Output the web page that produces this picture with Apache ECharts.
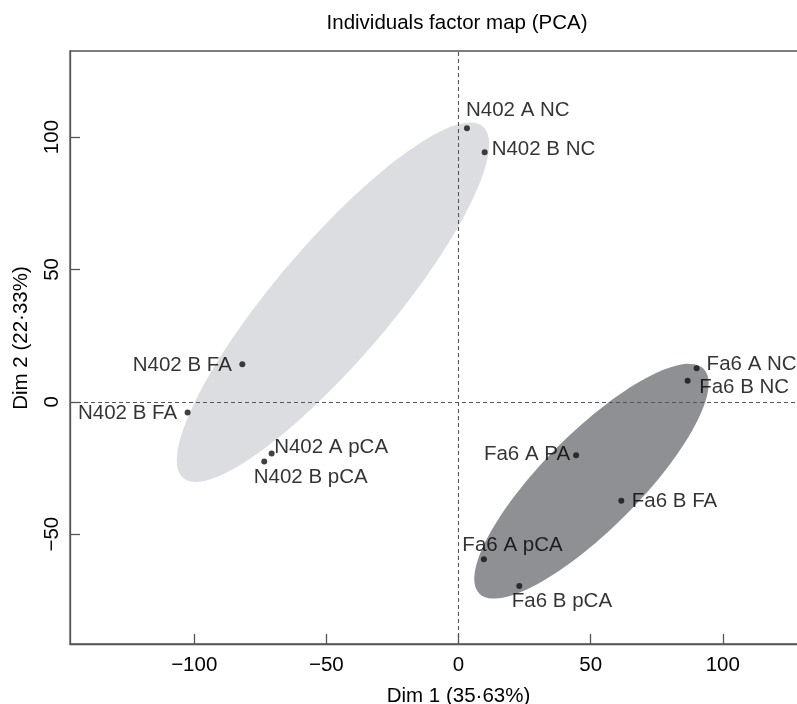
<!DOCTYPE html>
<html>
<head>
<meta charset="utf-8">
<script src="https://cdn.jsdelivr.net/npm/echarts@6/dist/echarts.min.js"></script>
<style>
html,body{margin:0;padding:0;background:#fff;}
#chart{width:797px;height:704px;}
</style>
</head>
<body>
<div id="chart"></div>
<script>
// ---- data ----
const pointNames = ['N402 A NC','N402 B NC','N402 B FA','N402 B FA','N402 A pCA','N402 B pCA',
                    'Fa6 A NC','Fa6 B NC','Fa6 A PA','Fa6 B FA','Fa6 A pCA','Fa6 B pCA'];
const dim1 = [3.2, 9.9, -81.8, -102.5, -70.7, -73.5, 90.1, 86.7, 44.5, 61.6, 9.6, 23.0];
const dim2 = [103.3, 94.3, 14.2, -4.1, -19.5, -22.6, 12.7, 7.9, -20.2, -37.4, -59.5, -69.6];

// confidence ellipses (data units)
const ellipseGroups = ['N402', 'Fa6'];
const ellipseCenterX = [-47.5, 50.3];
const ellipseCenterY = [37.6, -30.0];
const ellipseSemiMajor = [87.3, 60.0];
const ellipseSemiMinor = [21.9, 18.2];
const ellipseAngleDeg = [49.5, 45];

const xTickValues = [-100, -50, 0, 50, 100];
const yTickValues = [-50, 0, 50, 100];

const titleText = 'Individuals factor map (PCA)';
const xName = 'Dim 1 (35\u00b763%)';
const yName = 'Dim 2 (22\u00b733%)';

// ---- label placement (pixels, relative to point) ----
const labelAlign = ['left','left','right','right','left','left','left','left','right','left','left','left'];
const labelDx = [-1, 7, -10.5, -10.5, 2.5, -10.5, 10, 11.5, -6, 10.5, -21.5, -7.5];
const labelDy = [-18, -2.5, 0.7, 0.6, -5.8, 15.6, -3.6, 6, -1.3, 0.5, -14, 15.8];

const ellipseColors = ['#dcdde0', '#8f9093'];
const FONT = '"Liberation Sans", Arial, Helvetica, sans-serif';
const FS = 20.5;
const TXT = '#000';
const minus = v => String(v).replace('-', '\u2212');

const chart = echarts.init(document.getElementById('chart'), null, {renderer: 'canvas'});

const scatterData = pointNames.map((n, i) => ({
  name: n,
  value: [dim1[i], dim2[i]],
  label: {
    show: true,
    position: 'inside',
    align: labelAlign[i],
    verticalAlign: 'middle',
    offset: [labelDx[i], labelDy[i]],
    formatter: n,
    color: TXT,
    fontSize: FS,
    fontFamily: FONT
  }
}));

const ellipseData = ellipseGroups.map((g, i) => [ellipseCenterX[i], ellipseCenterY[i], ellipseSemiMajor[i], ellipseSemiMinor[i], ellipseAngleDeg[i], i]);

const option = {
  animation: false,
  backgroundColor: '#fff',
  title: {
    text: titleText,
    left: 457,
    textAlign: 'center',
    top: 13,
    padding: 0,
    textStyle: {fontSize: FS, fontWeight: 'normal', color: TXT, fontFamily: FONT}
  },
  grid: {
    left: 70, top: 51, width: 777, bottom: 60,
    outerBoundsMode: 'none',
    show: true, borderColor: '#555', borderWidth: 1.3, backgroundColor: 'transparent',
    containLabel: false
  },
  xAxis: {
    type: 'value', min: -147, max: 147,
    name: xName, nameLocation: 'middle', nameGap: 42,
    nameTextStyle: {fontSize: FS, color: TXT, fontFamily: FONT},
    splitLine: {show: false},
    axisLine: {show: true, onZero: false, lineStyle: {color: '#555', width: 1.3}},
    axisTick: {show: true, inside: true, length: 10, customValues: xTickValues, lineStyle: {color: '#555', width: 1.3}},
    axisLabel: {show: true, margin: 10.5, customValues: xTickValues, formatter: minus, fontSize: FS, color: TXT, fontFamily: FONT}
  },
  yAxis: {
    type: 'value', min: -91.5, max: 132.5,
    name: yName, nameLocation: 'middle', nameGap: 38,
    nameTextStyle: {fontSize: FS, color: TXT, fontFamily: FONT, padding: [0, 0, 0, 19]},
    splitLine: {show: false},
    axisLine: {show: true, onZero: false, lineStyle: {color: '#555', width: 1.3}},
    axisTick: {show: true, inside: true, length: 10, customValues: yTickValues, lineStyle: {color: '#555', width: 1.3}},
    axisLabel: {show: true, rotate: 90, margin: 7, customValues: yTickValues, formatter: minus, fontSize: FS, color: TXT, fontFamily: FONT}
  },
  series: [
    {
      type: 'custom',
      name: 'ellipses',
      z: 1,
      clip: true,
      data: ellipseData,
      renderItem: function (params, api) {
        const cx = api.value(0), cy = api.value(1), a = api.value(2), b = api.value(3);
        const th = api.value(4) * Math.PI / 180;
        const idx = api.value(5);
        const pts = [];
        const N = 120;
        for (let k = 0; k < N; k++) {
          const t = 2 * Math.PI * k / N;
          const ex = a * Math.cos(t), ey = b * Math.sin(t);
          const x = cx + ex * Math.cos(th) - ey * Math.sin(th);
          const y = cy + ex * Math.sin(th) + ey * Math.cos(th);
          pts.push(api.coord([x, y]));
        }
        return {
          type: 'polygon',
          shape: {points: pts},
          style: {fill: ellipseColors[idx], stroke: null}
        };
      }
    },
    {
      type: 'scatter',
      name: 'individuals',
      z: 3,
      symbol: 'circle',
      symbolSize: 6,
      itemStyle: {color: '#111'},
      data: scatterData,
      markLine: {
        silent: true,
        symbol: ['none', 'none'],
        label: {show: false},
        lineStyle: {color: '#555', type: [4, 3], width: 1.1},
        data: [{xAxis: 0}, {yAxis: 0}]
      }
    }
  ]
};
chart.setOption(option);
</script>
</body>
</html>
